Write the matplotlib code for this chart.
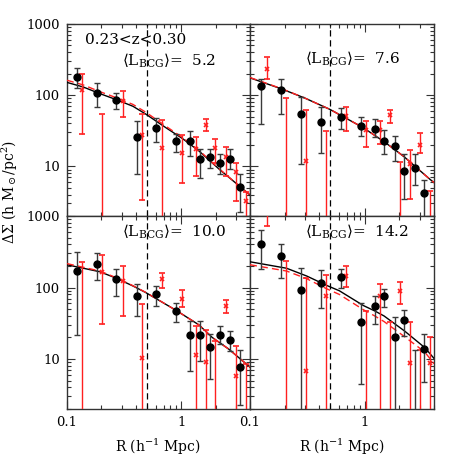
import numpy as np
import matplotlib
matplotlib.use("Agg")
import matplotlib.pyplot as plt
from matplotlib.ticker import FixedLocator, FixedFormatter, NullFormatter

plt.rcParams['font.family'] = 'DejaVu Serif'
plt.rcParams['mathtext.fontset'] = 'dejavuserif'

# ---------------- data ----------------
OFF = 1.0      # marker below plotted range
LOW = 1e-3     # lower error reaching below the axis
HIGH = 1500.0  # marker above plotted range

redshift_label = "0.23<z<0.30"
lbcg_values = ["5.2", "7.6", "10.0", "14.2"]

# black points (R, DeltaSigma, upper, lower)
blk_R_a = [0.123, 0.184, 0.270, 0.406, 0.603, 0.90, 1.19, 1.46, 1.79, 2.17, 2.65, 3.24]
blk_R_b = [0.125, 0.186, 0.276, 0.412, 0.615, 0.918, 1.22, 1.48, 1.82, 2.21, 2.72, 3.28]

p1_blk_y  = [181, 106, 85.5, 25.6, 34, 22.7, 22.5, 12.8, 13.3, 11.3, 12.8, 5.1]
p1_blk_hi = [244, 146, 108, 43, 47, 28.7, 31, 17.3, 17.7, 14.7, 17.3, 7.7]
p1_blk_lo = [127, 68, 63, 7.9, 21.8, 15.8, 13.9, 6.8, 9.4, 7.7, 9.3, 2.3]

p2_blk_y  = [134, 117, 55, 42, 50, 36.7, 33.4, 23, 19.2, 8.6, 9.5, 4.25]
p2_blk_hi = [166, 171, 94, 68, 67, 48.6, 46, 32.7, 27, 14.7, 14.7, 6.4]
p2_blk_lo = [39, 55, 10.9, 15.3, 33, 27, 25.6, 15, 11.7, 3.5, 5.4, LOW]

p3_blk_y  = [171, 212, 131, 77, 81, 46.4, 21.5, 21.5, 14.5, 21.5, 18.3, 7.8]
p3_blk_hi = [318, 302, 181, 113, 104, 61, 33.7, 34.5, 22.5, 28.7, 24.5, 13.2]
p3_blk_lo = [21.5, 126, 77, 40.5, 56, 32.7, 6.8, 9.4, 5.2, 16, 12.9, 2.26]

p4_blk_y  = [411, 277, 92, 114, 141, 32.7, 54.6, 75, 20.2, 35.6, OFF, 13.6]
p4_blk_hi = [632, 411, 187, 175, 184, 60, 77, 95, 38.4, 49, 13.2, 22.5]
p4_blk_lo = [181, 138, LOW, 51.8, 97, 4.5, 31, 53, LOW, 21.3, LOW, 4.8]

# red points
red_R_a = [0.136, 0.203, 0.307, 0.455, 0.679, 1.01, 1.34, 1.64, 1.99, 2.45, 2.99, 3.66]
red_R_b = [0.140, 0.206, 0.308, 0.458, 0.684, 1.02, 1.36, 1.65, 2.01, 2.46, 3.01, 3.67]

p1_red_y  = [118, OFF, 82.8, 27.5, 18, 15.3, 17.3, 38.6, 17.9, 13.5, 8.2, 3.3]
p1_red_hi = [199, 54, 114, 54, 44.6, 27.5, 25.7, 46.5, 23.9, 18.9, 11.3, 4.3]
p1_red_lo = [28.5, LOW, 48.6, 3.4, LOW, 5.8, 7.3, 31.2, 11.3, 7.3, 3.3, LOW]

p2_red_y  = [236, OFF, 11.9, OFF, 51, 32, 32, 52.4, OFF, 10.6, 20, OFF]
p2_red_hi = [340, 92, 61, 31, 69, 42.8, 43.6, 62, 11.5, 17.2, 29.3, 4.5]
p2_red_lo = [170, LOW, LOW, LOW, 31.7, 18.5, 20.6, 41, LOW, 3.5, 15.5, LOW]

p3_red_y  = [OFF, 163, 124.5, 10.2, 131, 69, 11.2, 9.1, OFF, 56, 5.8, OFF]
p3_red_hi = [231, 286, 201, 59, 162, 91, 28.7, 25.8, 17.7, 67.6, 15.1, 8.4]
p3_red_lo = [LOW, 31, 40.5, LOW, 98, 53.5, LOW, LOW, LOW, 44, LOW, LOW]

p4_red_y  = [HIGH, OFF, 6.9, 75, 146, OFF, 75, OFF, 88, 8.8, OFF, 8.7]
p4_red_hi = [3000, 236, 138, 149, 201, 47.5, 112, 33.4, 118, 33.4, 13.2, 20.2]
p4_red_lo = [727, LOW, LOW, LOW, 103, LOW, LOW, LOW, 59, LOW, LOW, LOW]

# model curves (solid black / dashed red)
p1_mod_R   = [0.1, 0.139, 0.194, 0.27, 0.378, 0.486, 0.735, 1.03, 1.43, 2.15, 4.0]
p1_mod_blk = [151, 130, 105, 86.5, 69.7, 54.5, 34.8, 24.4, 16.4, 9.1, 3.95]
p1_mod_red = [162, 139, 112, 92, 74, 58, 36.5, 25.2, 16.8, 9.2, 3.95]

p2_mod_R   = [0.1, 0.189, 0.3, 0.497, 0.97, 1.48, 1.88, 2.21, 3.67, 4.0]
p2_mod_blk = [175, 122, 91, 63, 34.8, 22, 16.5, 13.5, 6.6, 5.9]
p2_mod_red = [177, 123, 91, 63, 34.8, 22, 16.5, 13.5, 6.6, 5.9]

p3_mod_R   = [0.1, 0.194, 0.27, 0.378, 0.486, 0.9, 1.43, 1.87, 2.6, 4.0]
p3_mod_blk = [208, 166, 135, 105, 85.5, 48, 30, 20, 13.8, 7.7]
p3_mod_red = [216, 170, 137, 106, 86, 48, 30, 20, 13.8, 7.7]

p4_mod_R   = [0.1, 0.208, 0.311, 0.465, 0.6, 0.97, 1.22, 1.47, 2.22, 3.33, 4.0]
p4_mod_blk = [229, 186, 145, 107, 90, 56, 47, 40, 24.6, 14.4, 10.2]
p4_mod_red = [208, 170, 133, 96, 80, 49, 40, 33.4, 20.5, 12.5, 8.6]

# ---------------- figure ----------------
fig = plt.figure(figsize=(4.58, 4.58), dpi=100)

L, M, R_ = 67/458, 250/458, 434/458
T, MY, B = 1-24/458, 1-216/458, 1-409/458

panels = [
    dict(pos=[L, MY, M-L, T-MY], bR=blk_R_a, by=p1_blk_y, bhi=p1_blk_hi, blo=p1_blk_lo,
         rR=red_R_a, ry=p1_red_y, rhi=p1_red_hi, rlo=p1_red_lo,
         mR=p1_mod_R, mb=p1_mod_blk, mr=p1_mod_red, lab=lbcg_values[0], ly=0.81,
         left=True, bottom=False),
    dict(pos=[M, MY, R_-M, T-MY], bR=blk_R_b, by=p2_blk_y, bhi=p2_blk_hi, blo=p2_blk_lo,
         rR=red_R_b, ry=p2_red_y, rhi=p2_red_hi, rlo=p2_red_lo,
         mR=p2_mod_R, mb=p2_mod_blk, mr=p2_mod_red, lab=lbcg_values[1], ly=0.82,
         left=False, bottom=False),
    dict(pos=[L, B, M-L, MY-B], bR=blk_R_a, by=p3_blk_y, bhi=p3_blk_hi, blo=p3_blk_lo,
         rR=red_R_a, ry=p3_red_y, rhi=p3_red_hi, rlo=p3_red_lo,
         mR=p3_mod_R, mb=p3_mod_blk, mr=p3_mod_red, lab=lbcg_values[2], ly=0.92,
         left=True, bottom=True),
    dict(pos=[M, B, R_-M, MY-B], bR=blk_R_b, by=p4_blk_y, bhi=p4_blk_hi, blo=p4_blk_lo,
         rR=red_R_b, ry=p4_red_y, rhi=p4_red_hi, rlo=p4_red_lo,
         mR=p4_mod_R, mb=p4_mod_blk, mr=p4_mod_red, lab=lbcg_values[3], ly=0.92,
         left=False, bottom=True),
]

BLK = '#3a3a3a'
RED = '#ff2020'

yminor = [m*10**e for e in range(0, 4) for m in range(2, 10)]
xminor = [m*10**e for e in (-1, 0) for m in range(2, 10)]

for i, p in enumerate(panels):
    ax = fig.add_axes(p['pos'])
    ax.set_xscale('log'); ax.set_yscale('log')
    ax.set_xlim(0.1, 4.0); ax.set_ylim(2, 1000)

    ax.plot(p['mR'], p['mb'], color='black', lw=1.0, zorder=3)
    ax.plot(p['mR'], p['mr'], color=RED, lw=1.0, ls=(0, (5, 3)), zorder=3)
    ax.axvline(0.5, color='black', lw=0.9, ls=(0, (5, 3)), zorder=2)

    ry = np.array(p['ry'], float)
    ax.errorbar(p['rR'], ry,
                yerr=[ry - np.array(p['rlo']), np.array(p['rhi']) - ry],
                fmt='x', color=RED, ms=3, mew=1.2, elinewidth=1.0,
                capsize=2.4, capthick=1.0, zorder=4)
    by = np.array(p['by'], float)
    ax.errorbar(p['bR'], by,
                yerr=[by - np.array(p['blo']), np.array(p['bhi']) - by],
                fmt='o', color=BLK, mfc='black', mec='black', ms=5,
                elinewidth=1.0, capsize=2.4, capthick=1.0, zorder=5)

    ax.xaxis.set_major_locator(FixedLocator([0.1, 1]))
    ax.xaxis.set_minor_locator(FixedLocator(xminor))
    ax.yaxis.set_major_locator(FixedLocator([10, 100, 1000]))
    ax.yaxis.set_minor_locator(FixedLocator(yminor))
    ax.xaxis.set_minor_formatter(NullFormatter())
    ax.yaxis.set_minor_formatter(NullFormatter())
    if p['bottom']:
        ax.xaxis.set_major_formatter(FixedFormatter(['0.1', '1']))
    else:
        ax.xaxis.set_major_formatter(NullFormatter())
    if p['left']:
        ax.yaxis.set_major_formatter(FixedFormatter(['10', '100', '1000']))
    else:
        ax.yaxis.set_major_formatter(NullFormatter())
    ax.tick_params(which='both', direction='in', top=True, right=True,
                   labelsize=9.5, color='#333333', width=0.8, pad=5)
    ax.tick_params(which='major', length=6)
    ax.tick_params(which='minor', length=3)
    for s in ax.spines.values():
        s.set_color('#333333'); s.set_linewidth(1.0)

    if i == 0:
        ax.text(0.098, 0.915, redshift_label, transform=ax.transAxes,
                fontsize=11, ha='left', va='center')
    ax.text(0.30, p['ly'],
            r"$\langle\mathrm{L}_{\mathrm{BCG}}\rangle$=  " + p['lab'],
            transform=ax.transAxes, fontsize=11, ha='left', va='center')

fig.text(0.022, 0.58, r"$\Delta\Sigma$ (h M$_\odot$/pc$^2$)", rotation=90,
         ha='center', va='center', fontsize=10)
fig.text(158/458, 1-447/458, r"R (h$^{-1}$ Mpc)", ha='center', va='center', fontsize=10)
fig.text(342/458, 1-447/458, r"R (h$^{-1}$ Mpc)", ha='center', va='center', fontsize=10)

fig.savefig('out.png', dpi=100)
